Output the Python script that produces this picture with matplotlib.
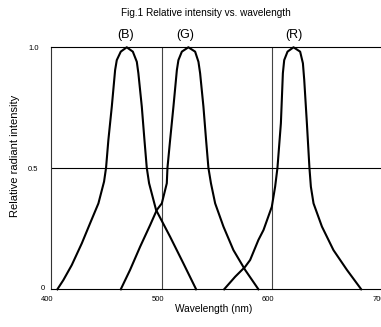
"""Relative radiant intensity vs. wavelength for B/G/R emitters."""
import matplotlib
matplotlib.use("Agg")
import matplotlib.pyplot as plt
from matplotlib.transforms import ScaledTranslation

plt.rcParams['font.family'] = ['Liberation Sans', 'DejaVu Sans']

# Spectra (wavelength nm, relative intensity)
blue_nm = [405.7, 411.1, 418.7, 427.8, 435.3, 442.8, 447.9, 449.7, 451.8, 454.9,
           457.9, 459.4, 463.0, 468.4, 473.9, 477.5, 478.9, 482.0, 484.4, 486.5,
           488.6, 494.9, 507.6, 519.6, 531.1]
blue_int = [0.0, 0.038, 0.100, 0.190, 0.273, 0.355, 0.445, 0.502, 0.617, 0.755,
            0.906, 0.947, 0.982, 1.0, 0.982, 0.940, 0.893, 0.755, 0.617, 0.502,
            0.438, 0.328, 0.217, 0.107, 0.0]

green_nm = [463.0, 471.4, 480.5, 489.5, 495.6, 500.1, 504.6, 505.2, 507.6, 510.6,
            513.7, 515.1, 518.2, 524.1, 530.2, 533.2, 534.7, 537.7, 540.1, 542.2,
            544.5, 548.3, 555.8, 564.8, 575.4, 587.4]
green_int = [0.0, 0.080, 0.176, 0.265, 0.328, 0.355, 0.438, 0.502, 0.617, 0.755,
             0.906, 0.947, 0.982, 1.0, 0.982, 0.940, 0.893, 0.755, 0.617, 0.502,
             0.438, 0.355, 0.259, 0.162, 0.080, 0.0]

red_nm = [556.4, 566.4, 575.4, 579.9, 587.4, 592.0, 599.5, 602.5, 604.6, 607.7,
          609.5, 610.7, 613.7, 619.1, 625.1, 627.6, 628.8, 631.2, 633.5, 634.8,
          637.2, 644.8, 655.2, 667.4, 680.3]
red_int = [0.0, 0.052, 0.093, 0.121, 0.204, 0.245, 0.341, 0.424, 0.502, 0.686,
           0.893, 0.947, 0.982, 1.0, 0.982, 0.934, 0.865, 0.686, 0.502, 0.424,
           0.355, 0.259, 0.162, 0.080, 0.0]

peak_labels = ['(B)', '(G)', '(R)']
peak_pos = [467.6, 521.6, 619.0]

x_ticks = [400, 500, 600, 700]
y_ticks = [0, 0.5, 1.0]
y_tick_labels = ['0', '0.5', '1.0']

fig = plt.figure(figsize=(3.81, 3.27), dpi=100)
ax = fig.add_axes([0.134, 0.1153, 0.8713, 0.7401])

# Reference lines
for x in [500, 600]:
    ax.axvline(x, color='#444444', lw=0.8, zorder=1)
ax.axhline(0.5, color='black', lw=0.8, zorder=1)

for nm, inten in [(blue_nm, blue_int), (green_nm, green_int), (red_nm, red_int)]:
    ax.plot(nm, inten, color='black', lw=1.5, clip_on=False, zorder=3,
            solid_joinstyle='round')

for lab, pos in zip(peak_labels, peak_pos):
    ax.text(pos, 1.051, lab, ha='center', va='center', fontsize=9)

ax.set_xlim(400, 700)
ax.set_ylim(0, 1.0)
ax.set_xticks(x_ticks)
ax.set_yticks(y_ticks)
ax.set_yticklabels(y_tick_labels)
ax.tick_params(length=0, labelsize=5.5)
ax.tick_params(axis='x', pad=5)
ax.tick_params(axis='y', pad=9)
ax.spines['right'].set_visible(False)
for side in ['left', 'bottom', 'top']:
    ax.spines[side].set_linewidth(0.8)
ax.spines['left'].set_color('#333333')

# nudge tick labels like the original layout
for lbl in ax.get_xticklabels():
    lbl.set_transform(lbl.get_transform() + ScaledTranslation(-4 / 100, 0, fig.dpi_scale_trans))
zero_lbl = ax.get_yticklabels()[0]
zero_lbl.set_transform(zero_lbl.get_transform() + ScaledTranslation(6 / 100, 2 / 100, fig.dpi_scale_trans))

fig.text(0.54, 0.960, 'Fig.1 Relative intensity vs. wavelength',
         ha='center', va='center', fontsize=7.2)
fig.text(0.56, 0.055, 'Wavelength (nm)', ha='center', va='center', fontsize=7.3)
fig.text(0.039, 0.523, 'Relative radiant intensity', ha='center', va='center',
         rotation=90, fontsize=8)

fig.savefig('out.png', dpi=100)
